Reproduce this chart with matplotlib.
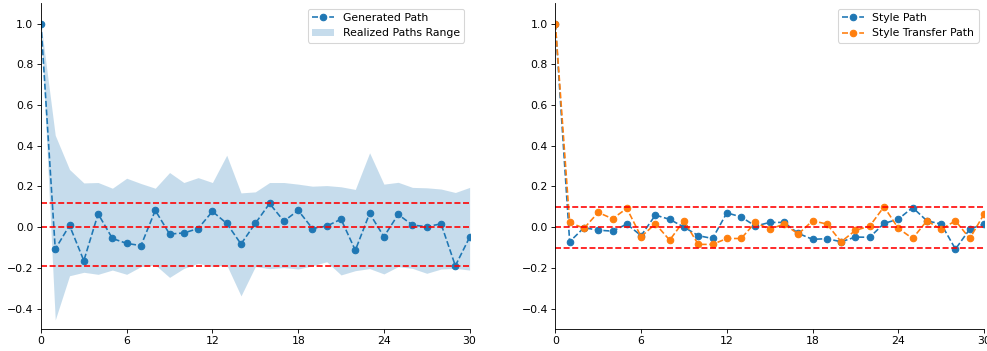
import matplotlib.pyplot as plt
import numpy as np

t = np.arange(31)

generated = [1.0, -0.108, 0.008, -0.165, 0.065, -0.056, -0.08, -0.091, 0.082, -0.034,
             -0.029, -0.007, 0.077, 0.018, -0.083, 0.018, 0.116, 0.029, 0.082, -0.007,
             0.005, 0.039, -0.114, 0.067, -0.047, 0.062, 0.01, 0.002, 0.016, -0.19, -0.05]
band_hi = [1.0, 0.451, 0.283, 0.217, 0.219, 0.191, 0.24, 0.214, 0.191, 0.268,
           0.219, 0.243, 0.219, 0.353, 0.168, 0.173, 0.219, 0.219, 0.211, 0.201,
           0.204, 0.198, 0.185, 0.365, 0.211, 0.22, 0.195, 0.193, 0.187, 0.17, 0.195]
band_lo = [1.0, -0.456, -0.239, -0.222, -0.232, -0.211, -0.232, -0.194, -0.186, -0.247,
           -0.203, -0.178, -0.194, -0.186, -0.338, -0.194, -0.204, -0.199, -0.206, -0.19,
           -0.17, -0.235, -0.214, -0.204, -0.23, -0.194, -0.203, -0.227, -0.206, -0.203, -0.211]
left_refs = [0.118, 0.0, -0.19]

style = [1.0, -0.072, -0.003, -0.015, -0.02, 0.015, -0.042, 0.059, 0.038, 0.0,
         -0.042, -0.056, 0.07, 0.05, 0.005, 0.023, 0.023, -0.031, -0.06, -0.057,
         -0.072, -0.049, -0.05, 0.018, 0.039, 0.096, 0.031, 0.015, -0.108, -0.01, 0.015]
transfer = [1.0, 0.023, -0.006, 0.072, 0.041, 0.092, -0.047, 0.016, -0.064, 0.031,
            -0.085, -0.085, -0.056, -0.056, 0.023, -0.011, 0.015, -0.034, 0.031, 0.015,
            -0.072, -0.016, 0.005, 0.1, -0.006, -0.056, 0.031, -0.011, 0.031, -0.056, 0.064]
right_refs = [0.1, 0.0, -0.105]

# low dpi so default font / marker sizes match the reference scale
dpi = 78
fig, (ax1, ax2) = plt.subplots(1, 2, figsize=(987 / dpi, 351 / dpi), dpi=dpi)
fig.subplots_adjust(left=0.0415, right=0.997, bottom=0.063, top=0.991, wspace=0.2)

ax1.plot(t, generated, 'o--', color='C0', label='Generated Path')
ax1.fill_between(t, band_lo, band_hi, color='C0', alpha=0.25, lw=0, label='Realized Paths Range')
for r in left_refs:
    ax1.axhline(r, color='red', ls='--')

ax2.plot(t, style, 'o--', color='C0', label='Style Path')
ax2.plot(t, transfer, 'o--', color='C1', label='Style Transfer Path')
for r in right_refs:
    ax2.axhline(r, color='red', ls='--')

for ax in (ax1, ax2):
    ax.set_xlim(0, 30)
    ax.set_ylim(-0.5, 1.1)
    ax.set_xticks(range(0, 31, 6))
    ax.set_yticks(np.arange(-0.4, 1.01, 0.2))
    ax.spines['right'].set_color('none')
    ax.spines['top'].set_color('none')
    ax.legend(loc='upper right')

plt.savefig('out.png', dpi=dpi)
